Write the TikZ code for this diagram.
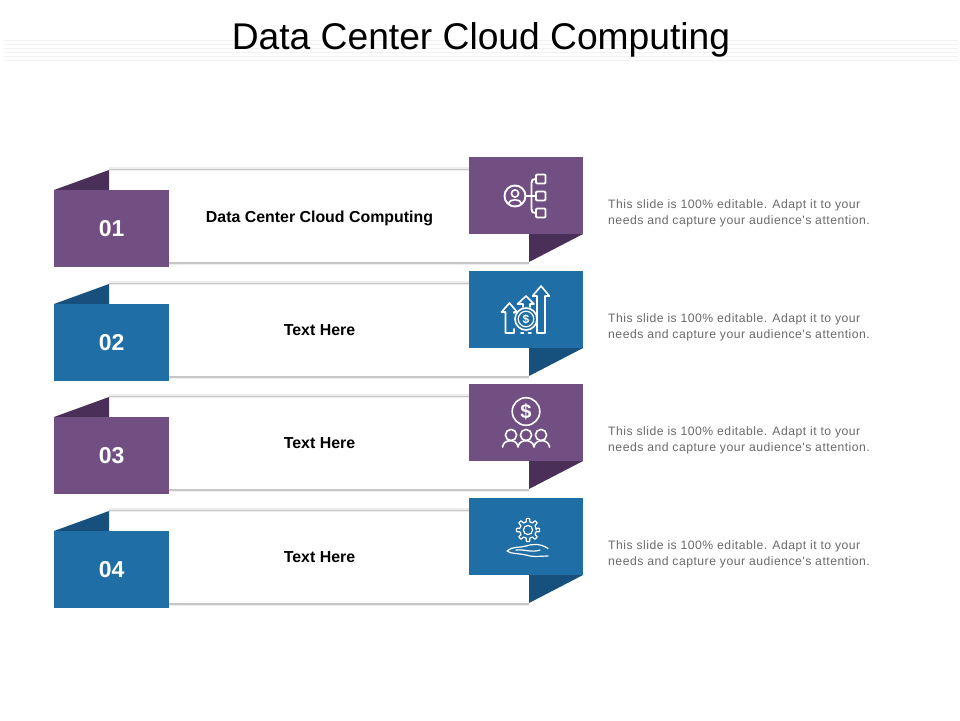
\documentclass[tikz,border=0pt]{standalone}
\usepackage{fontspec}
\setmainfont{Liberation Sans}
\newfontfamily\descfont[LetterSpace=4.0]{Liberation Sans}
\definecolor{pur}{HTML}{714F82}
\definecolor{purd}{HTML}{4A3058}
\definecolor{blu}{HTML}{1F6EA6}
\definecolor{blud}{HTML}{17507C}
\definecolor{txt}{HTML}{6A6A6A}
\tikzset{
  numbox/.style={draw=none,minimum width=115pt,minimum height=77pt,inner sep=0pt,anchor=north west,text=white,font=\fontsize{23}{26}\selectfont\bfseries},
  iconbox/.style={draw=none,minimum width=114.5pt,minimum height=76.5pt,inner sep=0pt,anchor=north west},
  headtext/.style={font=\fontsize{15.9}{19}\selectfont\bfseries,text=black,inner sep=0pt},
  desc/.style={font=\descfont\fontsize{12.2}{16}\selectfont,text=txt,align=left,anchor=north west,inner sep=0pt},
  ico/.style={draw=white,line width=1.6pt,line cap=round,line join=round},
  icothin/.style={draw=white,line width=1.2pt,line cap=round,line join=round},
  rule/.style={draw=black!5,line width=.7pt}
}
\newcommand{\rowband}[5]{% #1 y-offset, #2 main colour, #3 dark colour, #4 number, #5 name
  \begin{scope}[yshift=-#1pt]
    \fill[white] (109,170) rectangle (529,262);
    \draw[draw=black!7,line width=3.4pt] (109,169) -- (469,169);
    \draw[draw=black!22,line width=1.4pt] (109,169.3) -- (469,169.3);
    \draw[draw=black!7,line width=3.4pt] (169,263.5) -- (529,263.5);
    \draw[draw=black!22,line width=1.4pt] (169,262.8) -- (529,262.8);
    \fill[#3] (54,190) -- (109,170) -- (109,190) -- cycle;
    \fill[#3] (529,234) -- (583,234) -- (529,262) -- cycle;
    \node[numbox,fill=#2] (num#5) at (54,190) {#4};
    \node[iconbox,fill=#2] (ico#5) at (468.5,157) {};
  \end{scope}
}
\begin{document}
\begin{tikzpicture}[x=1pt,y=-1pt]
\useasboundingbox (0,0) rectangle (960,720);
\fill[white] (0,0) rectangle (960,720);
\foreach \yy in {40.7,44.7,48.5,52.4,56.3,60.3} \draw[rule] (3,\yy) -- (958,\yy);
\node[inner sep=0pt,font=\fontsize{37.2}{40}\selectfont,text=black] (title) at (481,40) {Data Center Cloud Computing};

\rowband{0}{pur}{purd}{01}{A}
\rowband{114}{blu}{blud}{02}{B}
\rowband{227}{pur}{purd}{03}{C}
\rowband{341}{blu}{blud}{04}{D}

\node[headtext] (headA) at (319.5,218) {Data Center Cloud Computing};
\node[headtext] (headB) at (319.5,330.2) {Text Here};
\node[headtext] (headC) at (319.5,443.2) {Text Here};
\node[headtext] (headD) at (319.5,557.2) {Text Here};

\node[desc] (descA) at (608,199) {This slide is 100\% editable. Adapt it to your\\needs and capture your audience's attention.};
\node[desc] (descB) at (608,313) {This slide is 100\% editable. Adapt it to your\\needs and capture your audience's attention.};
\node[desc] (descC) at (608,426) {This slide is 100\% editable. Adapt it to your\\needs and capture your audience's attention.};
\node[desc] (descD) at (608,540) {This slide is 100\% editable. Adapt it to your\\needs and capture your audience's attention.};

% icon 1
\draw[ico,line width=1.9pt] (515,196) circle (10.5);
\draw[ico] (515,193.5) circle (3.6);
\draw[ico] (508.5,203.5) .. controls (509,198.5) and (521,198.5) .. (521.5,203.5);
\draw[ico,line width=1.9pt] (525.5,196) -- (535,196);
\draw[ico,line width=1.9pt] (540,179) -- (535.5,179) .. controls (532.5,179) and (531.5,180) .. (531.5,183) -- (531.5,209) .. controls (531.5,212) and (532.5,213) .. (535.5,213) -- (540,213);
\foreach \yy in {179,196,213} \draw[ico,line width=1.9pt,rounded corners=1pt,fill=pur] (536,\yy-4.5) rectangle (545.5,\yy+4.5);

% icon 2
\draw[ico] (537,333) -- (537,296) -- (532.5,296) -- (541,286) -- (549.5,296) -- (545,296) -- (545,333) -- (537,333);
\draw[ico] (523,307) -- (523,304) -- (517.5,304) -- (526,296) -- (534,304) -- (530,304) -- (530,307);
\draw[ico] (514,313) -- (514,312) -- (517,312) -- (509.5,303) -- (501.5,312) -- (505.5,312) -- (505.5,333) -- (514,333) -- (514,329);
\draw[ico] (526,319) circle (11);
\draw[ico,line width=1.2pt] (526,319) circle (7.8);
\node[inner sep=0pt,text=white,font=\fontsize{12}{12}\selectfont\bfseries] (dollarB) at (526,319) {\$};
\draw[ico] (521,333) -- (523.5,333);
\draw[ico] (528.5,333) -- (531,333);

% icon 3
\draw[ico] (526,411.5) circle (13.8);
\node[inner sep=0pt,text=white,font=\fontsize{20}{20}\selectfont\bfseries] (dollarC) at (526,411.5) {\$};
\foreach \xx in {511,526,541} \draw[ico] (\xx,435) circle (5.6);
\draw[ico] (502.5,447) .. controls (503.5,438.5) and (517.5,438.5) .. (518,447)
  .. controls (519,438.5) and (533,438.5) .. (534,447)
  .. controls (535,438.5) and (548.5,438.5) .. (549.5,447);

% icon 4
\begin{scope}[shift={(528,530)}]
  \draw[icothin] (0:8.3)
    \foreach \a in {0,45,...,315} { -- (\a-13:8.3) -- (\a-8:11.6) -- (\a+8:11.6) -- (\a+13:8.3) } -- cycle;
  \draw[icothin] (0,0) circle (4.6);
\end{scope}
\draw[icothin] (548,548.5) .. controls (540,543) and (532,544) .. (526,546) .. controls (520,548) and (512,546) .. (507,551) .. controls (510,554) and (520,553) .. (530,556) .. controls (536,557) and (542,556) .. (548,556);
\draw[icothin] (516,550) .. controls (524,549) and (532,553) .. (540,550);
\end{tikzpicture}
\end{document}
